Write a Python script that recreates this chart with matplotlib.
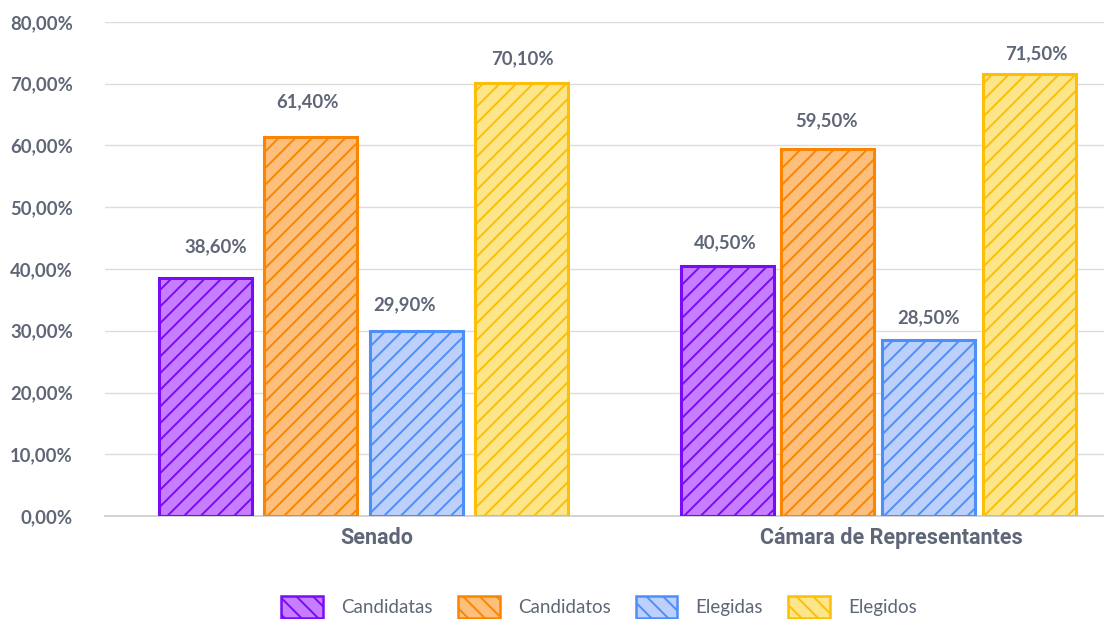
import matplotlib
matplotlib.use("Agg")
import matplotlib.pyplot as plt
import matplotlib.transforms as mtransforms
from matplotlib.patches import Patch
import numpy as np

categories = ["Senado", "Cámara de Representantes"]
series_names = ["Candidatas", "Candidatos", "Elegidas", "Elegidos"]
values = {
    "Candidatas": [38.6, 40.5],
    "Candidatos": [61.4, 59.5],
    "Elegidas": [29.9, 28.5],
    "Elegidos": [70.1, 71.5],
}
yticks = [0, 10, 20, 30, 40, 50, 60, 70, 80]

# styling
fills = ["#c77dff", "#fdc07c", "#bdd0fb", "#fde589"]
edges = ["#7a0cf5", "#fb8500", "#4d8ff8", "#fbbf0a"]
text_color = "#5f6677"
group_pitch = [0.204, 0.196]          # spacing between bars within each group
label_dx_px = [[10, -2], [-3, -1], [-11, 0], [1, 7]]
label_dy_px = [[31, 23], [35, 28], [27, 22], [24, 21]]

plt.rcParams['hatch.linewidth'] = 1.4

fig = plt.figure(figsize=(11.04, 6.19), dpi=100)
ax = fig.add_axes([105/1104, 1-516/619, 1-105/1104, (516-22)/619])

def fmt(v):
    return f"{v:.2f}".replace(".", ",") + "%"

x = np.arange(len(categories))
width = 0.1806
for i, name in enumerate(series_names):
    pos = x + (i - 1.5) * np.array(group_pitch)
    vals = values[name]
    plt.rcParams['hatch.color'] = edges[i]
    bars = ax.bar(pos, vals, width, color=fills[i], edgecolor=edges[i],
                  linewidth=2.2, hatch='//', zorder=3)
    for j, (b, v) in enumerate(zip(bars, vals)):
        ax.annotate(fmt(v), (b.get_x() + b.get_width()/2, v),
                    xytext=(label_dx_px[i][j]*0.72, label_dy_px[i][j]*0.72),
                    textcoords='offset points', ha='center', va='center',
                    fontsize=13.3, fontweight='bold', color=text_color, family='Lato')

ax.set_xlim(-0.502, 1.438)
ax.set_ylim(0, 80)
ax.set_yticks(yticks)
ax.set_yticklabels([fmt(t) for t in yticks], fontsize=13.3, fontweight='bold',
                   color=text_color, family='Lato')
ax.yaxis.grid(True, color='#dcdcdc', linewidth=1, zorder=0)
ax.set_axisbelow(True)
ax.tick_params(axis='y', length=0, pad=23)
ax.tick_params(axis='x', length=0, pad=8)
ax.set_xticks(x)
ax.set_xticklabels(categories, fontsize=15.5, fontweight='bold', color=text_color,
                   family='Roboto')
shift = mtransforms.ScaledTranslation(13/100, 0, fig.dpi_scale_trans)
for lbl in ax.get_xticklabels():
    lbl.set_transform(lbl.get_transform() + shift)
for s in ['top', 'right', 'left']:
    ax.spines[s].set_visible(False)
ax.spines['bottom'].set_color('#cccccc')
ax.spines['bottom'].set_linewidth(1.2)

handles = []
for i, name in enumerate(series_names):
    handles.append(Patch(facecolor=fills[i], edgecolor=edges[i], hatch='\\\\',
                         linewidth=1.8, label=name))
fs = 13.5
leg = fig.legend(handles=handles, loc='center', bbox_to_anchor=(599/1104, 1-607/619),
                 ncol=4, frameon=False, handlelength=30.2/fs, handleheight=18.7/fs,
                 columnspacing=18/fs, handletextpad=13/fs,
                 prop={'family': 'Lato', 'size': fs})
for t in leg.get_texts():
    t.set_color(text_color)

fig.savefig("out.png", dpi=100)
